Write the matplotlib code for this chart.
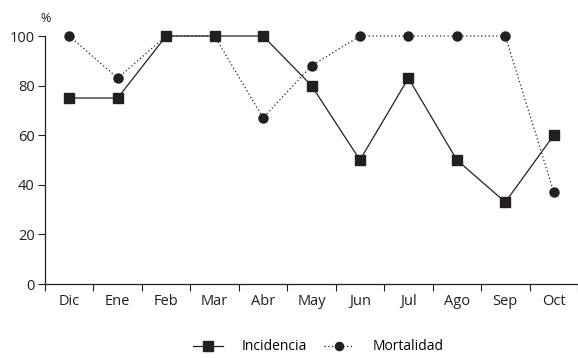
import numpy as np
import matplotlib.pyplot as plt
from matplotlib.ticker import FixedLocator

plt.rcParams['font.family'] = ['Open Sans', 'DejaVu Sans']

# Datos
meses = ['Dic', 'Ene', 'Feb', 'Mar', 'Abr', 'May', 'Jun', 'Jul', 'Ago', 'Sep', 'Oct']
incidencia = [75, 75, 100, 100, 100, 80, 50, 83, 50, 33, 60]
mortalidad = [100, 83, 100, 100, 67, 88, 100, 100, 100, 100, 37]

color = '#231f20'

fig = plt.figure(figsize=(5.78, 3.58), dpi=100)
ax = fig.add_axes([45 / 578, 1 - 284 / 358, 1 - 45 / 578, (284 - 36) / 358])

x = np.arange(len(meses))
ax.plot(x, mortalidad, linestyle=(0, (1, 2)), linewidth=0.9, color=color,
        marker='o', markersize=6.5, clip_on=False, label='Mortalidad', zorder=2)
ax.plot(x, incidencia, linestyle='-', linewidth=0.9, color=color,
        marker='s', markersize=7.5, clip_on=False, label='Incidencia', zorder=3)

ax.set_xlim(-0.5, len(meses) - 0.5)
ax.set_ylim(0, 100)
ax.set_yticks([0, 20, 40, 60, 80, 100])
ax.set_xticks(x)
ax.set_xticklabels(meses)
ax.xaxis.set_minor_locator(FixedLocator(np.arange(-0.5, len(meses), 1.0)))
ax.tick_params(axis='x', which='major', length=0, pad=7, labelsize=10.5, colors=color)
ax.tick_params(axis='x', which='minor', length=5, width=0.8, direction='out', color=color)
ax.tick_params(axis='y', length=5, width=0.8, direction='out', labelsize=10.5, colors=color, pad=2.5)

for s in ['top', 'right']:
    ax.spines[s].set_visible(False)
for s in ['left', 'bottom']:
    ax.spines[s].set_linewidth(0.9)
    ax.spines[s].set_color(color)

fig.text(40 / 578, 1 - 19 / 358, '%', fontsize=9, color=color, va='center', ha='left')

handles, labels = ax.get_legend_handles_labels()
fig.legend(handles[::-1], labels[::-1], loc='center', bbox_to_anchor=(318 / 578, 1 - 347 / 358),
           ncol=2, frameon=False, fontsize=10, handlelength=2.2, columnspacing=1.2,
           handletextpad=1.3, markerscale=0.9)

plt.savefig('out.png', dpi=100)
